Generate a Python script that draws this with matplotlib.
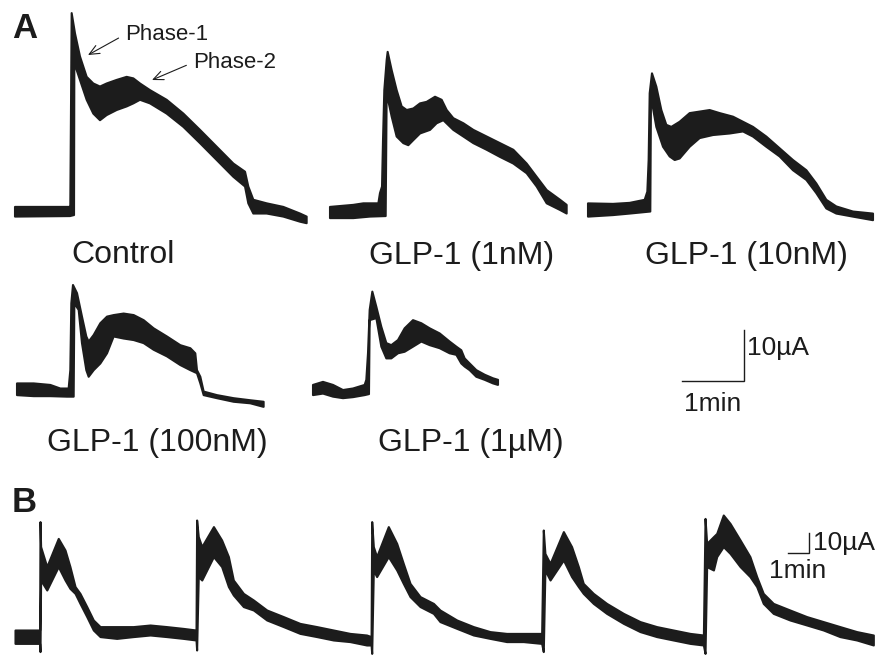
import numpy as np
import matplotlib
matplotlib.use('Agg')
from matplotlib import pyplot as plt

plt.rcParams['font.family'] = ['Liberation Sans', 'DejaVu Sans']

# ---- panel A traces, time in min, current in uA (upper and lower edge of the noisy band)
ctrl_t_hi = [0, 0.887, 0.892, 0.914, 0.968, 1.048, 1.156, 1.263, 1.371, 1.478, 1.640, 1.801, 1.909, 2.016,
             2.177, 2.446, 2.715, 2.984, 3.253, 3.522, 3.710, 3.763, 3.844, 4.059, 4.328, 4.597, 4.704]
ctrl_i_hi = [1.0, 1.0, 1.0, 39.0, 35.0, 30.5, 26.5, 25.2, 24.6, 25.2, 25.9, 26.5, 26.2, 25.2,
             23.9, 22.0, 19.3, 16.1, 12.8, 9.5, 7.9, 5.0, 2.4, 1.7, 1.0, -0.3, -0.9]
ctrl_t_lo = [0, 0.887, 0.952, 0.957, 1.048, 1.156, 1.263, 1.371, 1.478, 1.640, 1.801, 1.909, 2.016,
             2.177, 2.446, 2.715, 2.984, 3.253, 3.522, 3.710, 3.763, 3.844, 4.059, 4.328, 4.597, 4.704]
ctrl_i_lo = [-0.9, -0.8, -0.6, 29.2, 25.9, 22.0, 19.3, 18.0, 19.0, 20.0, 20.7, 21.3, 22.0,
             21.3, 19.3, 16.7, 13.5, 10.2, 6.9, 5.0, 1.7, -0.3, -0.3, -0.9, -1.9, -2.2]

n1_t_hi = [0, 0.376, 0.538, 0.780, 0.806, 0.839, 0.855, 0.876, 0.914, 0.930, 0.995, 1.075, 1.156, 1.237,
           1.344, 1.452, 1.559, 1.694, 1.801, 1.882, 1.989, 2.151, 2.312, 2.527, 2.742, 2.957, 3.172,
           3.333, 3.495, 3.710, 3.817]
n1_i_hi = [1.0, 1.4, 1.7, 1.7, 3.7, 5.0, 14.1, 23.9, 29.8, 31.4, 27.8, 23.9, 20.7, 20.0,
           20.3, 21.3, 21.6, 22.6, 22.0, 20.0, 18.4, 17.4, 16.1, 14.8, 13.5, 12.2, 9.5,
           6.9, 4.3, 2.4, 1.4]
n1_t_lo = [0, 0.376, 0.645, 0.898, 0.914, 0.995, 1.075, 1.183, 1.263, 1.344, 1.452, 1.613, 1.720,
           1.828, 1.989, 2.151, 2.312, 2.527, 2.742, 2.957, 3.172, 3.333, 3.495, 3.710, 3.817]
n1_i_lo = [-1.2, -1.2, -0.9, -0.8, 23.3, 18.7, 14.8, 13.5, 13.1, 14.1, 15.4, 16.1, 17.4,
           18.0, 16.1, 14.8, 13.5, 12.2, 10.8, 9.5, 7.6, 5.0, 1.7, 0.4, -0.3]

n10_t_hi = [0, 0.403, 0.672, 0.914, 0.957, 0.978, 0.995, 1.032, 1.102, 1.183, 1.263, 1.344, 1.478, 1.640,
            1.801, 1.962, 2.124, 2.339, 2.500, 2.661, 2.876, 3.091, 3.306, 3.522, 3.683, 3.844, 4.005,
            4.274, 4.597]
n10_i_hi = [1.3, 1.2, 1.4, 2.0, 3.6, 9.8, 22.9, 26.8, 24.2, 19.6, 16.7, 16.3, 17.3, 19.0,
            19.3, 19.6, 19.0, 18.3, 17.3, 16.3, 14.4, 12.1, 9.8, 7.8, 5.2, 2.0, 0.7,
            -0.3, -0.7]
n10_t_lo = [0, 0.403, 0.672, 1.005, 1.016, 1.102, 1.210, 1.317, 1.398, 1.478, 1.640, 1.801, 2.016,
            2.285, 2.500, 2.661, 2.876, 3.091, 3.306, 3.522, 3.683, 3.844, 4.005, 4.274, 4.597]
n10_i_lo = [-1.3, -1.0, -0.7, -0.3, 22.2, 16.3, 12.4, 10.5, 9.8, 10.1, 12.4, 14.1, 14.7,
            15.0, 15.4, 14.4, 12.4, 10.5, 7.8, 5.9, 3.3, 0.3, -0.7, -1.3, -2.0]

n100_t_hi = [0, 0.269, 0.538, 0.699, 0.833, 0.860, 0.876, 0.903, 0.968, 1.048, 1.118, 1.156, 1.237,
             1.344, 1.452, 1.559, 1.720, 1.882, 2.043, 2.204, 2.419, 2.634, 2.796, 2.876, 2.903,
             2.957, 3.011, 3.226, 3.495, 3.763, 3.978]
n100_i_hi = [0.9, 0.9, 0.6, -0.1, -0.1, 3.5, 16.6, 20.2, 18.6, 14.0, 10.1, 9.1, 10.4,
             12.7, 14.0, 14.3, 14.6, 14.3, 13.3, 11.7, 10.1, 8.4, 7.8, 6.8, 3.5,
             2.2, -0.7, -1.4, -2.0, -2.4, -2.7]
n100_t_lo = [0, 0.269, 0.538, 0.806, 0.914, 0.925, 0.995, 1.048, 1.118, 1.156, 1.237, 1.344, 1.452,
             1.559, 1.720, 1.882, 2.043, 2.204, 2.419, 2.634, 2.796, 2.903, 2.957, 3.011, 3.226,
             3.495, 3.763, 3.978]
n100_i_lo = [-1.4, -1.6, -1.6, -1.7, -1.7, 16.6, 15.3, 8.8, 3.5, 2.2, 3.5, 4.8, 6.8,
             10.1, 9.7, 9.4, 8.8, 7.5, 6.2, 4.5, 3.5, 2.9, 0.9, -1.4, -2.0,
             -2.7, -3.0, -3.7]

u1_t_hi = [0, 0.161, 0.323, 0.484, 0.645, 0.833, 0.860, 0.887, 0.914, 0.957, 1.022, 1.102, 1.183,
           1.263, 1.371, 1.478, 1.613, 1.747, 1.882, 2.043, 2.204, 2.312, 2.392, 2.446, 2.527,
           2.634, 2.769, 2.903, 2.984]
u1_i_hi = [0.8, 1.4, 0.8, -0.2, 0.1, 0.8, 1.8, 7.0, 15.5, 19.1, 16.1, 12.2, 9.0,
           8.6, 9.6, 11.9, 13.5, 12.9, 11.9, 10.9, 9.3, 8.3, 7.6, 6.0, 5.0,
           3.7, 2.8, 2.1, 1.8]
u1_t_lo = [0, 0.161, 0.323, 0.484, 0.645, 0.833, 0.903, 0.914, 1.022, 1.102, 1.183, 1.263, 1.371,
           1.478, 1.613, 1.747, 1.882, 2.043, 2.204, 2.312, 2.392, 2.446, 2.527, 2.634, 2.769,
           2.903, 2.984]
u1_i_lo = [-1.2, -0.9, -1.5, -1.8, -1.6, -1.2, -1.0, 13.5, 13.9, 8.3, 6.0, 6.0, 7.0,
           7.3, 8.3, 9.3, 8.6, 8.0, 7.0, 6.7, 5.0, 4.4, 3.7, 2.4, 1.8,
           1.1, 0.8]

a_labels = ['Control', 'GLP-1 (1nM)', 'GLP-1 (10nM)', 'GLP-1 (100nM)', 'GLP-1 (1\u00b5M)']

# ---- panel B: one continuous recording with five stimulations
b_t = [0, 1.14, 1.20, 1.22, 1.25, 1.55, 2.11, 2.44, 2.68, 2.93, 3.17, 3.50, 3.82, 4.15, 4.96, 5.77,
       6.59, 7.40, 8.21, 8.83,
       8.86, 8.94, 9.11, 9.68, 10.08, 10.41, 10.65, 11.14, 11.63, 12.28, 13.09, 13.90, 14.72, 15.53,
       16.34, 17.15, 17.37,
       17.40, 17.48, 17.64, 18.21, 18.62, 18.94, 19.27, 19.76, 20.41, 20.73, 21.55, 22.36, 23.17,
       23.98, 24.80, 25.69,
       25.77, 25.85, 26.10, 26.75, 27.15, 27.48, 27.72, 28.21, 28.86, 29.68, 30.49, 31.30, 32.11,
       32.93, 33.58,
       33.66, 33.74, 34.07, 34.23, 34.55, 34.88, 35.37, 35.85, 36.18, 36.50, 36.99, 37.80, 38.62,
       39.43, 40.24, 41.06, 41.87]
b_hi = [3.0, 3.0, 3.0, 57.2, 44.7, 34.7, 48.8, 43.0, 34.7, 24.7, 21.3, 14.7, 8.0, 4.7, 4.7, 4.7,
        5.5, 4.7, 3.8, 3.0,
        58.0, 49.7, 44.7, 54.7, 48.0, 39.7, 28.0, 21.3, 18.0, 13.0, 9.7, 6.3, 4.7, 3.0,
        1.3, 0.5, -0.3,
        57.2, 44.7, 39.7, 54.7, 46.3, 36.3, 26.3, 19.7, 16.3, 13.0, 8.0, 4.7, 2.2,
        1.3, 1.3, 1.3,
        53.0, 41.3, 36.3, 52.2, 44.7, 34.7, 26.3, 21.3, 16.3, 11.3, 7.2, 4.7, 3.0,
        1.3, 0.5,
        58.8, 46.3, 49.7, 51.3, 60.5, 56.3, 48.0, 39.7, 29.7, 21.3, 16.3, 13.0, 9.7,
        7.2, 4.7, 2.2, 0.5]
b_lo = [-3.7, -3.7, -3.7, -7.8, 28.0, 23.0, 34.7, 28.0, 23.8, 21.3, 16.3, 9.7, 3.0, -0.3, -1.2, -0.3,
        0.5, -0.3, -1.2, -2.0,
        -7.0, 29.7, 28.0, 39.7, 34.7, 24.7, 20.5, 14.7, 13.0, 8.0, 4.7, 1.3, -0.3, -2.0,
        -2.8, -4.5, -4.5,
        -8.7, 33.0, 29.7, 39.7, 33.0, 26.3, 19.7, 14.7, 11.3, 7.2, 3.8, 0.5, -1.2,
        -2.8, -2.8, -3.7,
        -7.8, 33.0, 28.0, 38.0, 29.7, 24.7, 21.3, 16.3, 11.3, 6.3, 2.2, -0.3, -2.0,
        -3.7, -4.5,
        -8.7, 34.7, 33.0, 39.7, 44.7, 41.3, 34.7, 29.7, 24.7, 16.3, 11.3, 8.0, 5.5,
        3.0, -0.3, -2.0, -4.5]

INK = '#1c1c1c'
W, H = 887, 656
fig = plt.figure(figsize=(W / 100, H / 100), dpi=100)


def make_panel(top, bottom, px_min, px_ua):
    ax = fig.add_axes([0, 1 - bottom / H, 1, (bottom - top) / H])
    ax.set_xlim(0, W / px_min)
    ax.set_ylim(0, (bottom - top) / px_ua)
    ax.axis('off')

    def to_data(x, y):
        return x / px_min, (bottom - y) / px_ua
    return ax, to_data


def fig_text(x, y, s, **kw):
    fig.text(x / W, 1 - y / H, s, color=INK, **kw)


def scale_bar(ax, cx, cy):
    ax.plot([cx - 1, cx, cx], [cy, cy, cy + 10], color=INK, lw=1.0, solid_joinstyle='miter')


# ---------------- panel A
axA, pxA = make_panel(0, 470, 62, 5.1)
a_traces = [(ctrl_t_hi, ctrl_i_hi, ctrl_t_lo, ctrl_i_lo),
            (n1_t_hi, n1_i_hi, n1_t_lo, n1_i_lo),
            (n10_t_hi, n10_i_hi, n10_t_lo, n10_i_lo),
            (n100_t_hi, n100_i_hi, n100_t_lo, n100_i_lo),
            (u1_t_hi, u1_i_hi, u1_t_lo, u1_i_lo)]
a_origin = [(15, 212), (330, 212), (588, 210), (17, 388), (313, 389)]
a_label_pos = [(123, 263), (462, 264), (746, 264), (157, 451), (471, 451)]

for (th, ih, tl, il), (ox, oy), lab, (lx, ly) in zip(a_traces, a_origin, a_labels, a_label_pos):
    x0, y0 = pxA(ox, oy)
    xs = np.concatenate([th, tl[::-1]]) + x0
    ys = np.concatenate([ih, il[::-1]]) + y0
    axA.fill(xs, ys, color=INK, lw=1.5, joinstyle='round')
    fig_text(lx, ly, lab, fontsize=23, ha='center', va='baseline')

arrow = dict(arrowstyle='->,head_length=0.45,head_width=0.2', lw=0.8, color=INK,
             shrinkA=3, shrinkB=0, relpos=(0, 0.5))
axA.annotate('Phase-1', xy=pxA(88, 55), xytext=pxA(125, 40), fontsize=16, color=INK,
             ha='left', va='baseline', arrowprops=arrow)
axA.annotate('Phase-2', xy=pxA(152, 80), xytext=pxA(193, 68), fontsize=16, color=INK,
             ha='left', va='baseline', arrowprops=arrow)

scale_bar(axA, *pxA(744, 381))
fig_text(747, 355, '10\u00b5A', fontsize=19, ha='left', va='baseline')
fig_text(713, 411, '1min', fontsize=19, ha='center', va='baseline')
fig_text(12, 38, 'A', fontsize=25, fontweight='bold', ha='left', va='baseline')

# ---------------- panel B
axB, pxB = make_panel(470, 656, 20.5, 2.0)
bx0, by0 = pxB(15, 636)
axB.fill_between(np.array(b_t) + bx0, np.array(b_lo) + by0, np.array(b_hi) + by0,
                 color=INK, lw=1.5)
scale_bar(axB, *pxB(809, 553))
fig_text(813, 550, '10\u00b5A', fontsize=19, ha='left', va='baseline')
fig_text(798, 578, '1min', fontsize=19, ha='center', va='baseline')
fig_text(12, 512, 'B', fontsize=25, fontweight='bold', ha='left', va='baseline')

fig.savefig('out.png', dpi=100, facecolor='white')
